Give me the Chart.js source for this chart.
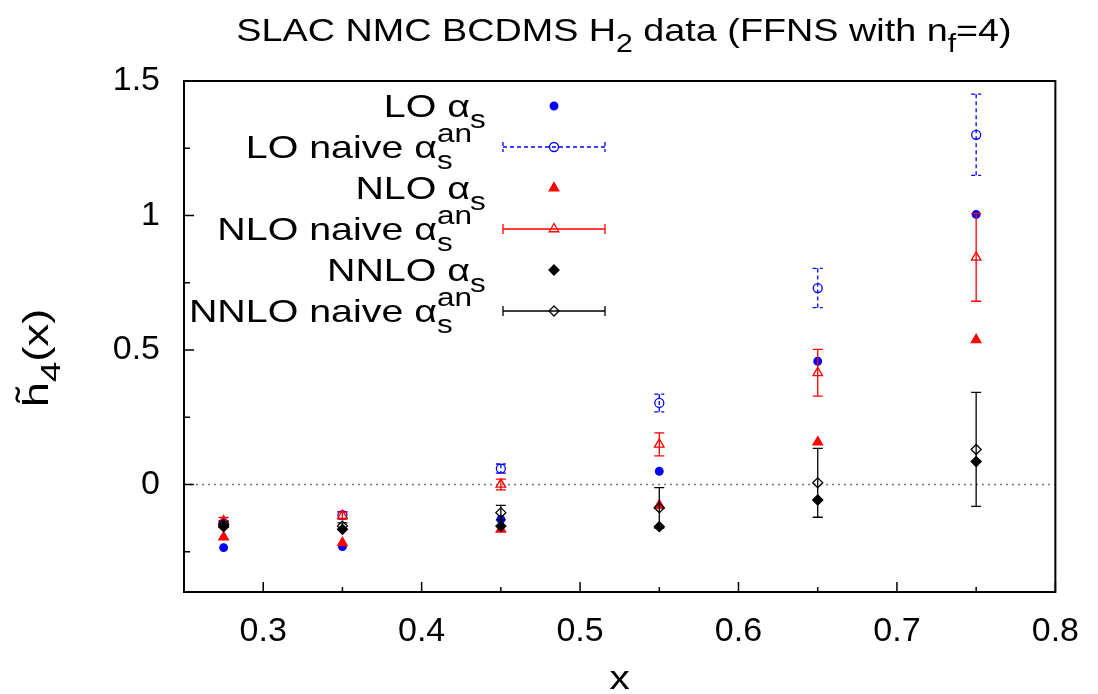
<!DOCTYPE html>
<html>
<head>
<meta charset="utf-8">
<script src="https://cdn.jsdelivr.net/npm/chart.js@4.4.0/dist/chart.umd.min.js"></script>
<style>
  html, body { margin: 0; padding: 0; background: #fff; }
  #wrap { width: 1098px; height: 694px; }
</style>
</head>
<body>
<div id="wrap"><canvas id="c" width="1098" height="694"></canvas></div>
<script>
// values
var xs = [0.275, 0.35, 0.45, 0.55, 0.65, 0.75];

var lo = [-0.235, -0.231, -0.130, 0.049, 0.458, 1.004];
var loNaive = [-0.145, -0.114, 0.059, 0.303, 0.730, 1.300];
var loNaiveErr = [0.010, 0.013, 0.017, 0.033, 0.073, 0.151];

var nlo = [-0.196, -0.217, -0.167, -0.078, 0.157, 0.538];
var nloNaive = [-0.136, -0.116, 0.000, 0.149, 0.415, 0.844];
var nloNaiveErr = [0.013, 0.013, 0.020, 0.043, 0.087, 0.163];

var nnlo = [-0.157, -0.167, -0.155, -0.157, -0.058, 0.085];
var nnloNaive = [-0.149, -0.155, -0.105, -0.087, 0.006, 0.130];
var nnloNaiveErr = [0.010, 0.012, 0.027, 0.075, 0.128, 0.212];

var xTickLabels = ['0.3', '0.4', '0.5', '0.6', '0.7', '0.8'];
var yTickLabels = ['0', '0.5', '1', '1.5'];

var FONT = '"Liberation Sans", Arial, Helvetica, sans-serif';
var FS = 32;
var STRETCH = 1.23;
var BLUE = '#0000ff', RED = '#ff0000', BLACK = '#000000';

function pts(ys) {
    return xs.map(function(x, i) { return { x: x, y: ys[i] }; });
}

// text with sub/superscripts, segments: {t, k: 'n' | 'sub' | 'sup'}
function drawRich(ctx, segs, x, y, size, align, stretch) {
    var st = stretch || STRETCH;
    var placed = [];
    var cx = 0, mainEnd = null, inScript = false, sx = 0, sw = 0;
    segs.forEach(function(s) {
        var fs = s.k === 'n' ? size : size * 0.8;
        ctx.font = fs + 'px ' + FONT;
        var w = ctx.measureText(s.t).width;
        if (s.k === 'n') {
            if (inScript) { cx = sx + sw; inScript = false; }
            placed.push({ t: s.t, fs: fs, x: cx, dy: 0 });
            cx += w;
        } else {
            if (!inScript) {
                inScript = true; sx = cx; sw = 0;
                if (mainEnd === null) mainEnd = cx;
            }
            placed.push({ t: s.t, fs: fs, x: sx, dy: s.k === 'sub' ? size * 0.33 : -size * 0.5 });
            sw = Math.max(sw, w);
        }
    });
    if (inScript) cx = sx + sw;
    if (mainEnd === null) mainEnd = cx;
    var x0 = x;
    if (align === 'right') x0 = x - cx * st;
    else if (align === 'center') x0 = x - cx * st / 2;
    else if (align === 'mainEnd') x0 = x - mainEnd * st;

    ctx.save();
    ctx.translate(x0, y);
    ctx.scale(st, 1);
    ctx.fillStyle = BLACK;
    ctx.textAlign = 'left';
    ctx.textBaseline = 'alphabetic';
    placed.forEach(function(p) {
        ctx.font = p.fs + 'px ' + FONT;
        ctx.fillText(p.t, p.x, p.dy);
    });
    ctx.restore();
    return { x0: x0, width: cx * st };
}

function marker(ctx, style, x, y, r, fill, color) {
    ctx.save();
    ctx.beginPath();
    if (style === 'circle') {
        ctx.arc(x, y, r, 0, Math.PI * 2);
    } else if (style === 'triangle') {
        ctx.moveTo(x, y - r);
        ctx.lineTo(x + r * 0.866, y + r * 0.5);
        ctx.lineTo(x - r * 0.866, y + r * 0.5);
        ctx.closePath();
    } else {
        ctx.moveTo(x, y - r);
        ctx.lineTo(x + r, y);
        ctx.lineTo(x, y + r);
        ctx.lineTo(x - r, y);
        ctx.closePath();
    }
    ctx.lineWidth = 1.3;
    ctx.strokeStyle = color;
    if (fill) { ctx.fillStyle = color; ctx.fill(); }
    ctx.stroke();
    ctx.restore();
}

var legendRows = [
    { label: [{ t: 'LO \u03b1', k: 'n' }, { t: 's', k: 'sub' }], style: 'circle', r: 3.8, fill: true, color: BLUE, bar: false },
    { label: [{ t: 'LO naive \u03b1', k: 'n' }, { t: 's', k: 'sub' }, { t: 'an', k: 'sup' }], style: 'circle', r: 4.5, fill: false, color: BLUE, bar: true, dash: [4, 3] },
    { label: [{ t: 'NLO \u03b1', k: 'n' }, { t: 's', k: 'sub' }], style: 'triangle', r: 5.5, fill: true, color: RED, bar: false },
    { label: [{ t: 'NLO naive \u03b1', k: 'n' }, { t: 's', k: 'sub' }, { t: 'an', k: 'sup' }], style: 'triangle', r: 5.5, fill: false, color: RED, bar: true, dash: [] },
    { label: [{ t: 'NNLO \u03b1', k: 'n' }, { t: 's', k: 'sub' }], style: 'diamond', r: 5, fill: true, color: BLACK, bar: false },
    { label: [{ t: 'NNLO naive \u03b1', k: 'n' }, { t: 's', k: 'sub' }, { t: 'an', k: 'sup' }], style: 'diamond', r: 5, fill: false, color: BLACK, bar: true, dash: [] }
];

var decorations = {
    id: 'decorations',
    beforeDatasetsDraw: function(chart) {
        var ctx = chart.ctx, a = chart.chartArea;
        var xS = chart.scales.x, yS = chart.scales.y;
        ctx.save();
        // zero line
        var y0 = yS.getPixelForValue(0);
        ctx.strokeStyle = '#777';
        ctx.lineWidth = 1.5;
        ctx.setLineDash([2, 4]);
        ctx.beginPath();
        ctx.moveTo(a.left, y0);
        ctx.lineTo(a.right, y0);
        ctx.stroke();
        ctx.setLineDash([]);
        // inward ticks
        ctx.strokeStyle = BLACK;
        ctx.lineWidth = 1.5;
        ctx.beginPath();
        for (var i = 0; i <= 11; i++) {
            var xp = xS.getPixelForValue(0.25 + i * 0.05);
            var len = (i % 2 === 1) ? 10 : 5;
            ctx.moveTo(xp, a.bottom);
            ctx.lineTo(xp, a.bottom - len);
        }
        for (var j = -1; j <= 6; j++) {
            var yp = yS.getPixelForValue(j * 0.25);
            var ylen = (j % 2 === 0) ? 10 : 6;
            ctx.moveTo(a.left, yp);
            ctx.lineTo(a.left + ylen, yp);
        }
        ctx.stroke();
        ctx.restore();
    },
    afterDatasetDraw: function(chart, args) {
        var ds = chart.data.datasets[args.index];
        if (!ds.errorBars) return;
        var ctx = chart.ctx, yS = chart.scales.y;
        ctx.save();
        ctx.strokeStyle = ds.borderColor;
        ctx.lineWidth = 1.3;
        ctx.setLineDash(ds.errorDash || []);
        args.meta.data.forEach(function(el, i) {
            var v = ds.data[i].y, e = ds.errorBars[i];
            var top = yS.getPixelForValue(v + e), bot = yS.getPixelForValue(v - e);
            ctx.beginPath();
            ctx.moveTo(el.x, top);
            ctx.lineTo(el.x, bot);
            ctx.moveTo(el.x - 5, top);
            ctx.lineTo(el.x + 5, top);
            ctx.moveTo(el.x - 5, bot);
            ctx.lineTo(el.x + 5, bot);
            ctx.stroke();
        });
        ctx.restore();
    },
    afterDraw: function(chart) {
        var ctx = chart.ctx, a = chart.chartArea;
        ctx.save();
        // frame
        ctx.strokeStyle = BLACK;
        ctx.lineWidth = 2;
        ctx.strokeRect(a.left, a.top, a.right - a.left, a.bottom - a.top);

        // title
        drawRich(ctx, [
            { t: 'SLAC NMC BCDMS H', k: 'n' }, { t: '2', k: 'sub' },
            { t: ' data (FFNS with n', k: 'n' }, { t: 'f', k: 'sub' },
            { t: '=4)', k: 'n' }
        ], 624, 41, 32, 'center', 1.18);

        // axis titles
        drawRich(ctx, [{ t: 'x', k: 'n' }], (a.left + a.right) / 2, 689, 33, 'center');
        ctx.save();
        ctx.translate(48, 358);
        ctx.rotate(-Math.PI / 2);
        var r = drawRich(ctx, [{ t: 'h', k: 'n' }, { t: '4', k: 'sub' }, { t: '(x)', k: 'n' }], 0, 0, 35, 'center', 1.3);
        ctx.font = '35px ' + FONT;
        var hw = ctx.measureText('h').width * 1.3;
        drawRich(ctx, [{ t: '\u02dc', k: 'n' }], r.x0 + hw / 2, -7, 35, 'center', 1.3);
        ctx.restore();

        // legend
        legendRows.forEach(function(row, i) {
            var ry = 106 + i * 41;
            var end = row.bar ? 437 : 470;
            drawRich(ctx, row.label, end, ry + 11, FS, 'mainEnd');
            if (row.bar) {
                ctx.save();
                ctx.strokeStyle = row.color;
                ctx.lineWidth = 1.3;
                ctx.setLineDash(row.dash);
                ctx.beginPath();
                ctx.moveTo(503, ry); ctx.lineTo(605, ry);
                ctx.moveTo(503, ry - 5); ctx.lineTo(503, ry + 5);
                ctx.moveTo(605, ry - 5); ctx.lineTo(605, ry + 5);
                ctx.stroke();
                ctx.restore();
            }
            marker(ctx, row.style, 554, ry, row.r, row.fill, row.color);
        });
        ctx.restore();
    }
};

function series(data, style, r, filled, color, order, err, dash) {
    return {
        data: pts(data),
        pointStyle: style,
        pointRadius: r,
        pointHoverRadius: r,
        pointBorderWidth: 1.3,
        borderColor: color,
        backgroundColor: filled ? color : 'rgba(0,0,0,0)',
        pointBackgroundColor: filled ? color : 'rgba(255,255,255,0)',
        pointBorderColor: color,
        showLine: false,
        order: order,
        errorBars: err || null,
        errorDash: dash || []
    };
}

new Chart(document.getElementById('c'), {
    type: 'scatter',
    data: {
        datasets: [
            series(lo, 'circle', 3.8, true, BLUE, 6),
            series(loNaive, 'circle', 4.5, false, BLUE, 5, loNaiveErr, [4, 3]),
            series(nlo, 'triangle', 5.5, true, RED, 4),
            series(nloNaive, 'triangle', 5.5, false, RED, 3, nloNaiveErr),
            series(nnlo, 'rectRot', 5, true, BLACK, 2),
            series(nnloNaive, 'rectRot', 5, false, BLACK, 1, nnloNaiveErr)
        ]
    },
    plugins: [decorations],
    options: {
        responsive: false,
        animation: false,
        layout: { padding: { top: 81, right: 40, left: 0, bottom: 0 } },
        plugins: {
            legend: { display: false },
            title: { display: false },
            tooltip: { enabled: false }
        },
        scales: {
            x: {
                type: 'linear',
                min: 0.25,
                max: 0.8,
                grid: { display: false, drawTicks: false },
                border: { display: false },
                afterFit: function(s) { s.height = 102; },
                ticks: {
                    stepSize: 0.1,
                    includeBounds: false,
                    autoSkip: false,
                    maxRotation: 0,
                    padding: 19,
                    color: BLACK,
                    font: { family: FONT, size: 34 },
                    callback: function(v) {
                        var k = Math.round((v - 0.3) * 10);
                        return xTickLabels[k] !== undefined ? xTickLabels[k] : '';
                    }
                }
            },
            y: {
                type: 'linear',
                min: -0.4,
                max: 1.5,
                grid: { display: false, drawTicks: false },
                border: { display: false },
                afterFit: function(s) { s.width = 184; },
                ticks: {
                    stepSize: 0.5,
                    includeBounds: false,
                    autoSkip: false,
                    padding: 24,
                    color: BLACK,
                    font: { family: FONT, size: 34 },
                    callback: function(v) {
                        var k = Math.round(v * 2);
                        return yTickLabels[k] !== undefined ? yTickLabels[k] : '';
                    }
                }
            }
        }
    }
});
</script>
</body>
</html>
